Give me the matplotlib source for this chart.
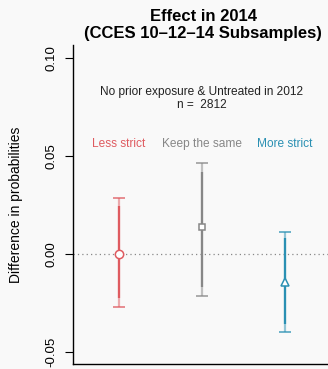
import matplotlib
matplotlib.use('Agg')
import matplotlib.pyplot as plt

plt.rcParams['font.family'] = ['Liberation Sans', 'DejaVu Sans']

groups = ['Less strict', 'Keep the same', 'More strict']
colors = ['#df5b60', '#878787', '#2a90b3']
markers = ['o', 's', '^']
est = [0.0, 0.0139, -0.0145]
lo95 = [-0.027, -0.0214, -0.040]
hi95 = [0.0284, 0.0463, 0.0112]
lo90 = [-0.0224, -0.0167, -0.0357]
hi90 = [0.0245, 0.0417, 0.008]
yticks = [-0.05, 0.0, 0.05, 0.10]
ytick_labels = ['-0.05', '0.00', '0.05', '0.10']

bg = '#f9f9f9'
fig = plt.figure(figsize=(3.28, 3.69), dpi=100, facecolor=bg)
ax = fig.add_axes([73 / 328, 5 / 369, 260 / 328, 319 / 369], facecolor=bg)
ax.set_xlim(0.446, 3.58)
ax.set_ylim(-0.0561, 0.1066)

ax.axhline(0, color='#888888', lw=0.9, ls=(0, (1, 2.5)), zorder=1)

xs = [1, 2, 3]
for x, c, m, e, l95, h95, l90, h90 in zip(xs, colors, markers, est, lo95, hi95, lo90, hi90):
    ax.vlines(x, l95, h95, color=c, alpha=0.5, lw=1.6, zorder=2)
    ax.hlines([l95, h95], x - 0.075, x + 0.075, color=c, lw=1.2, alpha=0.8, zorder=2)
    ax.vlines(x, l90, h90, color=c, lw=1.6, zorder=3)
    ax.plot(x, e, marker=m, ms=6 if m != 's' else 5, mfc='white', mec=c, mew=1.1, zorder=4)

ax.text(2, 0.0794, 'No prior exposure & Untreated in 2012\nn =  2812', ha='center', va='center',
        fontsize=8.6, linespacing=1.1, color='#222222')
for x, g, c in zip(xs, groups, colors):
    ax.text(x, 0.0563, g, ha='center', va='center', fontsize=8.6, color=c)

ax.set_title('Effect in 2014\n(CCES 10\u201312\u201314 Subsamples)', fontsize=12, fontweight='bold',
             linespacing=1.2, pad=5)
ax.set_ylabel('Difference in probabilities', fontsize=10, labelpad=16)
ax.set_yticks(yticks)
ax.set_yticklabels(ytick_labels, rotation=90, va='center', fontsize=9.5)
ax.set_xticks([])
ax.tick_params(axis='y', length=6, width=0.8, pad=5)
ax.spines['top'].set_visible(False)
ax.spines['right'].set_visible(False)
ax.spines['left'].set_linewidth(1.0)
ax.spines['bottom'].set_linewidth(1.0)

plt.savefig('out.png', dpi=100, facecolor=bg)
